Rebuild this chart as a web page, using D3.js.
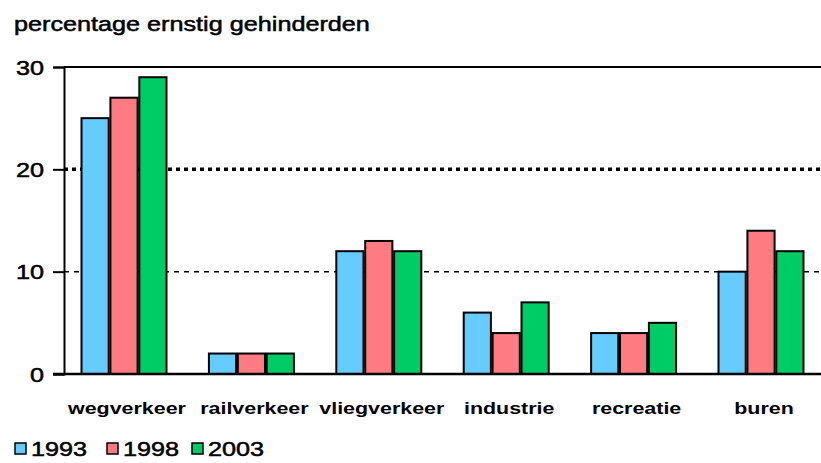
<!DOCTYPE html>
<html>
<head>
<meta charset="utf-8">
<style>
body { margin: 0; background: #fff; }
svg { display: block; font-family: "Liberation Sans", Arial, sans-serif; }
</style>
<script src="https://cdn.jsdelivr.net/npm/d3@7"></script>
</head>
<body>
<svg id="chart" width="821" height="463"></svg>
<script>
// data
var categories = ["wegverkeer", "railverkeer", "vliegverkeer", "industrie", "recreatie", "buren"];
var years = ["1993", "1998", "2003"];
var v1993 = [25, 2, 12, 6, 4, 10];
var v1998 = [27, 2, 13, 4, 4, 14];
var v2003 = [29, 2, 12, 7, 5, 12];
var yTicks = [0, 10, 20, 30];
var colors = ["#66ccff", "#ff7b82", "#00cc66"];

var series = [v1993, v1998, v2003];
var data = categories.map(function(c, i) {
	return { cat: c, vals: years.map(function(y, j) { return { year: y, v: series[j][i] }; }) };
});

var svg = d3.select("#chart");
var plotL = 64, plotR = 821, plotT = 67, plotB = 374;

// text in the original is stretched sideways and a bit heavy
var stretchK = 1.26;
function stretch(sel) {
	sel.each(function() {
		var w = this.getComputedTextLength();
		d3.select(this).attr("textLength", w * stretchK).attr("lengthAdjust", "spacingAndGlyphs");
	});
}
function heavy(sel) {
	sel.attr("stroke", "#000").attr("stroke-width", 0.5);
}

var x0 = d3.scaleBand()
	.domain(categories)
	.range([60.3, 824.7])
	.paddingInner(0.333)
	.paddingOuter(0.1665);

var x1 = d3.scaleBand()
	.domain(years)
	.range([0, x0.bandwidth()])
	.paddingInner(0.06);

var y = d3.scaleLinear().domain([0, 30]).range([plotB, plotT]);
var z = d3.scaleOrdinal().domain(years).range(colors);

// title
svg.append("text")
	.attr("x", 14)
	.attr("y", 31)
	.attr("font-size", 20)
	.attr("fill", "#000")
	.text("percentage ernstig gehinderden")
	.call(heavy)
	.call(stretch);

// gridlines
svg.append("line")
	.attr("x1", plotL).attr("x2", plotR)
	.attr("y1", y(20)).attr("y2", y(20))
	.attr("stroke", "#000").attr("stroke-width", 3.5)
	.attr("stroke-dasharray", "4,4");
svg.append("line")
	.attr("x1", plotL).attr("x2", plotR)
	.attr("y1", y(10)).attr("y2", y(10))
	.attr("stroke", "#000").attr("stroke-width", 1.5)
	.attr("stroke-dasharray", "5,5");

// top frame line
svg.append("line")
	.attr("x1", plotL).attr("x2", plotR)
	.attr("y1", y(30)).attr("y2", y(30))
	.attr("stroke", "#000").attr("stroke-width", 2);

// bars
var groups = svg.append("g")
	.selectAll("g")
	.data(data)
	.enter().append("g")
	.attr("transform", function(d) { return "translate(" + x0(d.cat) + ",0)"; });

groups.selectAll("rect")
	.data(function(d) { return d.vals; })
	.enter().append("rect")
	.attr("x", function(d) { return x1(d.year); })
	.attr("y", function(d) { return y(d.v); })
	.attr("width", x1.bandwidth())
	.attr("height", function(d) { return y(0) - y(d.v); })
	.attr("fill", function(d) { return z(d.year); })
	.attr("stroke", "#000")
	.attr("stroke-width", 2);

// y axis
var yAxis = svg.append("g")
	.attr("transform", "translate(" + plotL + ",0)")
	.call(d3.axisLeft(y).tickValues(yTicks).tickSize(11).tickPadding(9).tickFormat(d3.format("d")));
yAxis.select(".domain").attr("stroke-width", 2);
yAxis.selectAll(".tick line").attr("stroke-width", 2);
yAxis.selectAll(".tick text")
	.attr("font-size", 20)
	.attr("font-family", "Liberation Sans, Arial, sans-serif")
	.attr("dy", "0.36em")
	.call(heavy)
	.call(stretch);

// x baseline
svg.append("line")
	.attr("x1", 53).attr("x2", plotR)
	.attr("y1", plotB).attr("y2", plotB)
	.attr("stroke", "#000").attr("stroke-width", 2.5);

// category labels
svg.append("g")
	.selectAll("text")
	.data(categories)
	.enter().append("text")
	.attr("x", function(d) { return x0(d) + x0.bandwidth() / 2 + 3; })
	.attr("y", 414)
	.attr("text-anchor", "middle")
	.attr("font-size", 17)
	.attr("font-weight", "bold")
	.attr("fill", "#000")
	.text(function(d) { return d; })
	.call(stretch);

// legend
var legendX = [15, 107, 192];
var legend = svg.append("g")
	.selectAll("g")
	.data(years)
	.enter().append("g")
	.attr("transform", function(d, i) { return "translate(" + legendX[i] + ",443)"; });

legend.append("rect")
	.attr("width", 11)
	.attr("height", 11)
	.attr("fill", function(d) { return z(d); })
	.attr("stroke", "#000")
	.attr("stroke-width", 1.5);

legend.append("text")
	.attr("x", 16)
	.attr("y", 13)
	.attr("font-size", 20)
	.attr("fill", "#000")
	.text(function(d) { return d; })
	.call(heavy)
	.call(stretch);
</script>
</body>
</html>
